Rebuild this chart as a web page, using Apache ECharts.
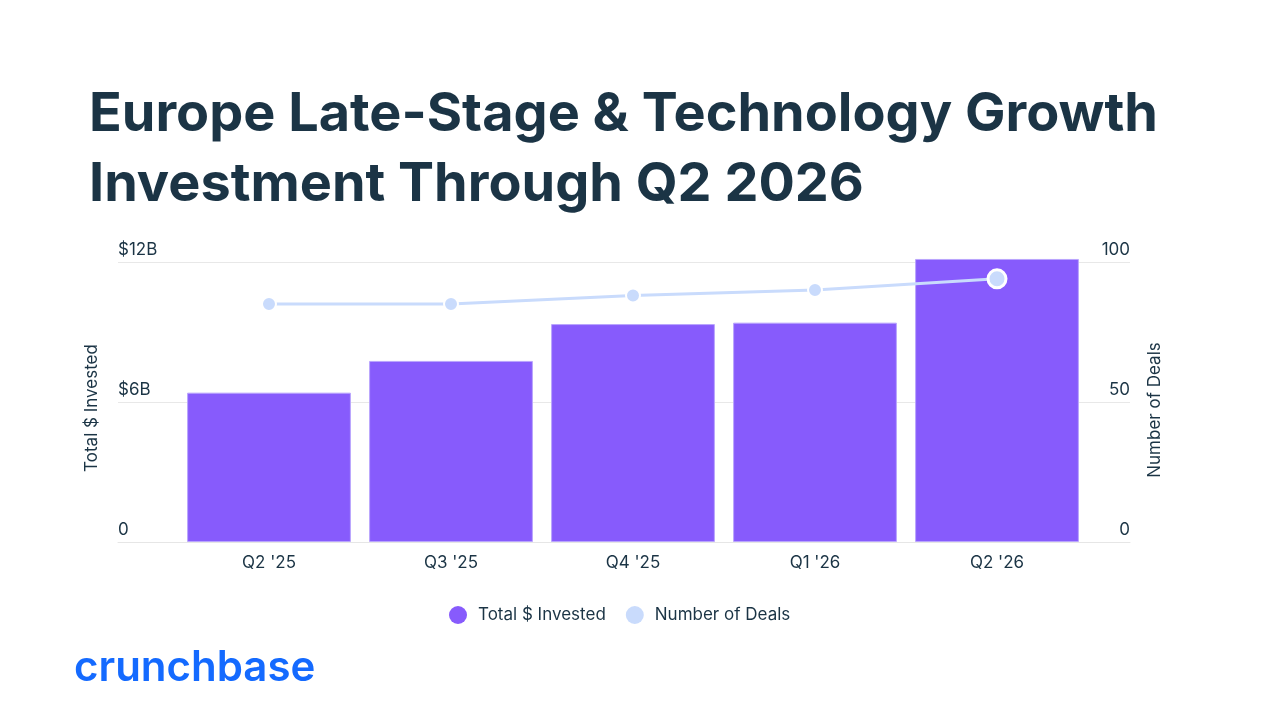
<!DOCTYPE html>
<html>
<head>
<meta charset="utf-8">
<title>Europe Late-Stage & Technology Growth Investment</title>
<script src="https://cdn.jsdelivr.net/npm/echarts@6/dist/echarts.min.js"></script>
<style>
  html, body { margin: 0; padding: 0; background: #fff; }
  #main { width: 1270px; height: 714px; }
</style>
</head>
<body>
<div id="main"></div>
<script>
// data
var quarters = ["Q2 '25", "Q3 '25", "Q4 '25", "Q1 '26", "Q2 '26"];
var invested = [6.4, 7.76, 9.34, 9.4, 12.13]; // $B
var deals = [85, 85, 88, 90, 94];
var leftTicks = { 0: '0', 6: '$6B', 12: '$12B' };

var ink = '#1b3445';
var barColor = '#875bfc';
var lineColor = '#c9dbfc';

var chart = echarts.init(document.getElementById('main'));

var dealData = deals.map(function (v, i) {
  if (i === deals.length - 1) {
    return { value: v, symbolSize: 18, itemStyle: { borderWidth: 3 } };
  }
  return v;
});

var option = {
  backgroundColor: '#fff',
  animation: false,
  textStyle: { fontFamily: 'Inter, "Noto Sans", sans-serif' },
  title: {
    text: 'Europe Late-Stage & Technology Growth\nInvestment Through Q2 2026',
    left: 84,
    top: 75,
    textStyle: {
      fontSize: 54,
      fontWeight: 'bold',
      color: ink,
      lineHeight: 70,
      fontFamily: 'Inter, sans-serif'
    }
  },
  legend: {
    left: 449,
    top: 606,
    padding: 0,
    itemWidth: 18,
    itemHeight: 18,
    itemGap: 20,
    icon: 'circle',
    itemStyle: { borderWidth: 0 },
    textStyle: { fontSize: 17, color: ink, padding: [0, 0, 0, 6] },
    data: ['Total $ Invested', 'Number of Deals']
  },
  grid: [
    { left: 118, right: 140, top: 262, bottom: 172 },
    { left: 178, right: 182, top: 262, bottom: 172 }
  ],
  xAxis: [
    {
      gridIndex: 0, type: 'category', data: quarters,
      axisLine: { show: true, lineStyle: { color: '#e6e6e6', width: 1 } },
      axisTick: { show: false }, axisLabel: { show: false }
    },
    {
      gridIndex: 1, type: 'category', data: quarters,
      axisLine: { show: false }, axisTick: { show: false },
      axisLabel: { color: ink, fontSize: 17, margin: 12 }
    }
  ],
  yAxis: [
    {
      gridIndex: 0, type: 'value', position: 'left', min: 0, max: 12, interval: 6,
      axisLine: { show: false }, axisTick: { show: false },
      axisLabel: {
        inside: true, margin: 0, verticalAlign: 'bottom', padding: [0, 0, 4, 0],
        color: ink, fontSize: 17,
        formatter: function (v) { return leftTicks[v]; }
      },
      splitLine: { lineStyle: { color: '#e8e8e8', width: 1 } },
      name: 'Total $ Invested', nameLocation: 'middle', nameRotate: 90, nameGap: 18,
      nameTextStyle: { color: ink, fontSize: 17, padding: [0, 12, 0, 0] }
    },
    {
      gridIndex: 0, type: 'value', position: 'right', min: 0, max: 100, interval: 50,
      axisLine: { show: false }, axisTick: { show: false },
      axisLabel: {
        inside: true, margin: 0, verticalAlign: 'bottom', padding: [0, 0, 4, 0],
        color: ink, fontSize: 17
      },
      splitLine: { show: false },
      name: 'Number of Deals', nameLocation: 'middle', nameRotate: 90, nameGap: 16,
      nameTextStyle: { color: ink, fontSize: 17, padding: [0, 16, 0, 0] }
    },
    { gridIndex: 1, type: 'value', min: 0, max: 12, show: false },
    { gridIndex: 1, type: 'value', min: 0, max: 100, show: false }
  ],
  series: [
    {
      name: 'Total $ Invested',
      type: 'bar',
      xAxisIndex: 1, yAxisIndex: 2,
      barCategoryGap: '10%',
      clip: false,
      itemStyle: { color: barColor, borderColor: '#b9a5fd', borderWidth: 1 },
      data: invested
    },
    {
      name: 'Number of Deals',
      type: 'line',
      xAxisIndex: 1, yAxisIndex: 3,
      z: 5,
      symbol: 'circle',
      symbolSize: 14,
      clip: false,
      lineStyle: { color: lineColor, width: 3 },
      itemStyle: { color: lineColor, borderColor: '#fff', borderWidth: 2 },
      data: dealData
    }
  ],
  graphic: [
    {
      type: 'text',
      left: 74,
      top: 647,
      style: {
        text: 'crunchbase',
        font: '600 42px Inter, Lato, sans-serif',
        fill: '#146aff'
      }
    }
  ]
};

chart.setOption(option);
</script>
</body>
</html>
